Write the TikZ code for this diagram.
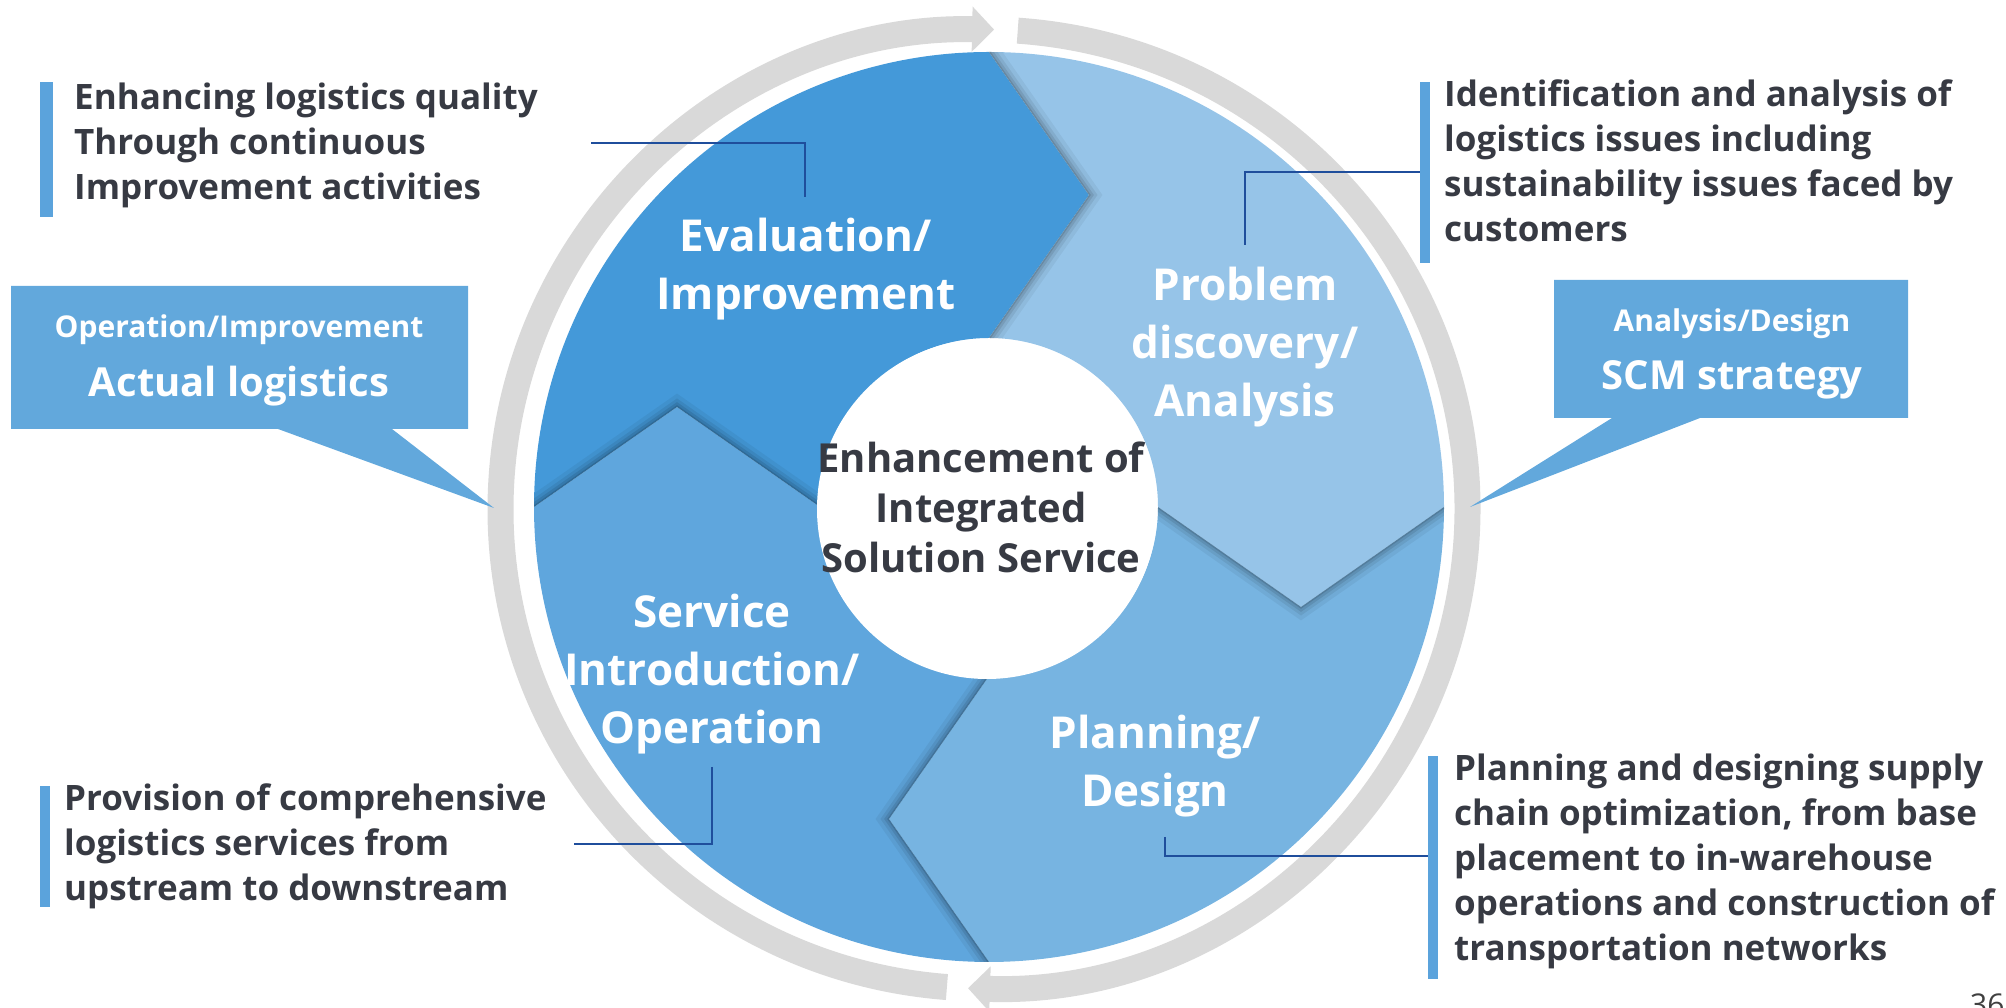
\documentclass[tikz,border=0pt]{standalone}
\usepackage{fontspec}
\setmainfont{Open Sans}
\usetikzlibrary{arrows.meta}
\definecolor{evalc}{HTML}{4499D9}
\definecolor{probc}{HTML}{96C4E8}
\definecolor{planc}{HTML}{77B4E1}
\definecolor{servc}{HTML}{5FA6DD}
\definecolor{callc}{HTML}{62A8DC}
\definecolor{barc}{HTML}{5BA3DC}
\definecolor{ringc}{HTML}{D9D9D9}
\definecolor{linec}{HTML}{1F4E9C}
\definecolor{txtc}{HTML}{373A43}
\def\pEval{(534,501) arc[start angle=180,end angle=90,radius=455] -- (1089,813) -- (989,670) arc[start angle=90,end angle=180,radius=169] -- (677,601) -- cycle}
\def\pProb{(989,956) arc[start angle=90,end angle=0,radius=455] -- (1301,401) -- (1158,501) arc[start angle=0,end angle=90,radius=169] -- (1089,813) -- cycle}
\def\pPlan{(1444,501) arc[start angle=0,end angle=-90,radius=455] -- (889,189) -- (989,332) arc[start angle=-90,end angle=0,radius=169] -- (1301,401) -- cycle}
\def\pServ{(989,46) arc[start angle=-90,end angle=-180,radius=455] -- (677,601) -- (820,501) arc[start angle=180,end angle=270,radius=169] -- (889,189) -- cycle}
\begin{document}
\begin{tikzpicture}[x=1pt,y=1pt,
  seglabel/.style={text=white, font=\bfseries\fontsize{44}{58}\selectfont, align=center, inner sep=0pt, anchor=base},
  sidetext/.style={text=txtc, font=\bfseries\fontsize{35}{45}\selectfont, align=left, inner sep=0pt, anchor=base west},
  hubtext/.style={text=txtc, font=\bfseries\fontsize{40}{50}\selectfont, align=center, inner sep=0pt, anchor=base},
  smallcall/.style={text=white, font=\bfseries\fontsize{30}{36}\selectfont, inner sep=0pt, anchor=base},
  bigcall/.style={text=white, font=\bfseries\fontsize{40}{48}\selectfont, inner sep=0pt, anchor=base},
  bar/.style={fill=barc},
  leader/.style={draw=linec, line width=2.2pt},
  ring/.style={draw=ringc, line width=26pt, -{Triangle[length=22pt,width=44pt]}},
  callout/.style={fill=callc},
]
\useasboundingbox (0,0) rectangle (2006,1008);
% gray cycle ring
\draw[ring] (984,499) ++(265.6:483.5 and 479.5) arc[start angle=265.6,end angle=88.8,x radius=483.5,y radius=479.5];
\draw[ring] (984,499) ++(86:483.5 and 479.5) arc[start angle=86,end angle=-91.9,x radius=483.5,y radius=479.5];
% segments
\fill[evalc] \pEval;
\fill[probc] \pProb;
\fill[planc] \pPlan;
\fill[servc] \pServ;
% shadows of the chevron tips
\foreach \seg/\chev in {\pProb/{(989,956) -- (1089,813) -- (989,670)},
                        \pPlan/{(1444,501) -- (1301,401) -- (1158,501)},
                        \pServ/{(989,46) -- (889,189) -- (989,332)},
                        \pEval/{(534,501) -- (677,601) -- (820,501)}}{
  \begin{scope}
    \clip \seg;
    \foreach \w/\o in {22/0.05,14/0.07,8/0.09,3/0.12}{
      \draw[black, opacity=\o, line width=\w pt, line join=miter] \chev;
    }
  \end{scope}
}
% hub
\fill[white] (987,499) circle[radius=170];
\node[hubtext] (hub) at (981,435) {Enhancement of\\Integrated\\Solution Service};
% segment labels
\node[seglabel] (eval) at (806,698) {Evaluation/\\Improvement};
\node[seglabel] (prob) at (1245,591) {Problem\\discovery/\\Analysis};
\node[seglabel] (serv) at (712,264) {Service\\Introduction/\\Operation};
\node[seglabel] (plan) at (1155,201) {Planning/\\Design};
% side bars and texts
\fill[bar] (40,791) rectangle (53,926);
\fill[bar] (1420,745) rectangle (1430,926);
\fill[bar] (40,101) rectangle (50,222);
\fill[bar] (1428,29) rectangle (1438,252);
\node[sidetext] (t1) at (74,808) {Enhancing logistics quality\\Through continuous\\Improvement activities};
\node[sidetext] (t2) at (1444,766) {Identification and analysis of\\logistics issues including\\sustainability issues faced by\\customers};
\node[sidetext] (t3) at (64,107) {Provision of comprehensive\\logistics services from\\upstream to downstream};
\node[sidetext] (t4) at (1454,47) {Planning and designing supply\\chain optimization, from base\\placement to in-warehouse\\operations and construction of\\transportation networks};
% leader lines
\coordinate (l1a) at (591,865); \coordinate (l1b) at (805,811);
\coordinate (l2a) at (1245,763); \coordinate (l2b) at (1420,836);
\coordinate (l3a) at (712,241); \coordinate (l3b) at (574,164);
\coordinate (l4a) at (1165,171); \coordinate (l4b) at (1428,152);
\draw[leader] (l1a) -| (l1b);
\draw[leader] (l2a) |- (l2b);
\draw[leader] (l3a) |- (l3b);
\draw[leader] (l4a) |- (l4b);
% callouts
\fill[callout] (11,579) -- (278,579) -- (494,500) -- (392,579) -- (468,579) -- (468,722) -- (11,722) -- cycle;
\fill[callout] (1554,590) -- (1612,590) -- (1470,501) -- (1700,590) -- (1908,590) -- (1908,728) -- (1554,728) -- cycle;
\node[smallcall] (c1a) at (239,670) {Operation/Improvement};
\node[bigcall] (c1b) at (239,611) {Actual logistics};
\node[smallcall] (c2a) at (1732,676) {Analysis/Design};
\node[bigcall] (c2b) at (1732,618) {SCM strategy};
% page number
\node[text=black!75, font=\fontsize{30}{36}\selectfont, inner sep=0pt, anchor=base west] (pg) at (1970,-8) {36};
\end{tikzpicture}
\end{document}
